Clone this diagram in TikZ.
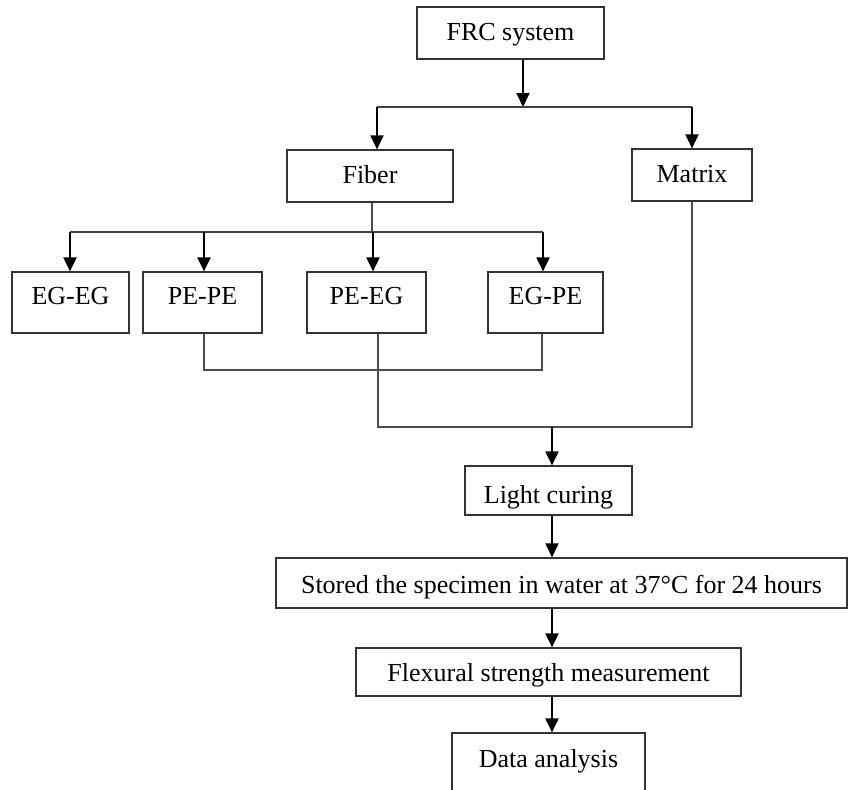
\documentclass[tikz,border=0pt]{standalone}
\usepackage{fontspec}
\setmainfont{Liberation Serif}
\usetikzlibrary{arrows.meta}
\usetikzlibrary{calc}

\begin{document}
\begin{tikzpicture}[x=0.5pt,y=-0.5pt,
    every node/.style={font=\fontsize{13}{15}\selectfont},
    box/.style={draw=black!80,line width=0.6pt,inner xsep=0pt,inner ysep=0pt,anchor=base},
    topbox/.style={box,text height=16.5pt,text depth=9.5pt},
    rowbox/.style={box,text height=16pt,text depth=14.5pt},
    arr/.style={line width=1pt,-{Triangle[length=7pt,width=6.5pt]}},
    bar/.style={line width=1pt,black!75},
    mergeline/.style={line width=0.6pt,black!70}]
\clip (0,0) rectangle (848,789);

\node[topbox,minimum width=93.5pt] (frc) at (510.5,40) {FRC system};
\node[topbox,minimum width=83pt] (fiber) at (370,183) {Fiber};
\node[topbox,minimum width=60pt] (matrix) at (692,182) {Matrix};

\node[rowbox,minimum width=58.5pt] (egeg) at (70.5,304) {EG-EG};
\node[rowbox,minimum width=59.5pt] (pepe) at (202.5,304) {PE-PE};
\node[rowbox,minimum width=59.5pt] (peeg) at (366.5,304) {PE-EG};
\node[rowbox,minimum width=57.5pt] (egpe) at (545.5,304) {EG-PE};

\node[box,minimum width=83.5pt,text height=18.5pt,text depth=6pt] (light) at (548.5,503) {Light curing};
\node[box,minimum width=285.5pt,text height=17.5pt,text depth=7.5pt] (stored) at (561.5,593) {Stored the specimen in water at 37°C for 24 hours};
\node[box,minimum width=192.5pt,text height=16.5pt,text depth=7.5pt] (flex) at (548.5,681) {Flexural strength measurement};
\node[box,minimum width=96.5pt,text height=17pt,text depth=15pt] (data) at (548.5,767) {Data analysis};

% split points
\coordinate (s0) at (523,107);
\coordinate (s1) at (377,107);
\coordinate (s2) at (692,107);
\coordinate (f0) at (372,232);
\coordinate (f1) at (70,232);
\coordinate (f2) at (204,232);
\coordinate (f3) at (373,232);
\coordinate (f4) at (543,232);

\draw[arr] (frc.south -| s0) -- (s0);
\draw[bar] (s1) -- (s2);
\draw[arr] (s1) -- (s1 |- fiber.north);
\draw[arr] (s2) -- (matrix.north);

\draw[mergeline] (fiber.south -| f0) -- (f0);
\draw[bar] (f1) -- (f4);
\draw[arr] (f1) -- (f1 |- egeg.north);
\draw[arr] (f2) -- (f2 |- pepe.north);
\draw[arr] (f3) -- (f3 |- peeg.north);
\draw[arr] (f4) -- (f4 |- egpe.north);

% merging lines
\coordinate (m1) at (204,370);
\coordinate (m2) at (542,370);
\coordinate (m3) at (378,427);
\coordinate (m4) at (692,427);
\coordinate (m5) at (552,427);
\draw[mergeline] (pepe.south -| m1) -- (m1) -- (m2) -- (egpe.south -| m2);
\draw[mergeline] (peeg.south -| m3) -- (m3) -- (m4) -- (matrix.south);

\draw[arr] (m5) -- (m5 |- light.north);
\draw[arr] (light.south -| m5) -- (stored.north -| m5);
\draw[arr] (stored.south -| m5) -- (flex.north -| m5);
\draw[arr] (flex.south -| m5) -- (data.north -| m5);
\end{tikzpicture}
\end{document}
